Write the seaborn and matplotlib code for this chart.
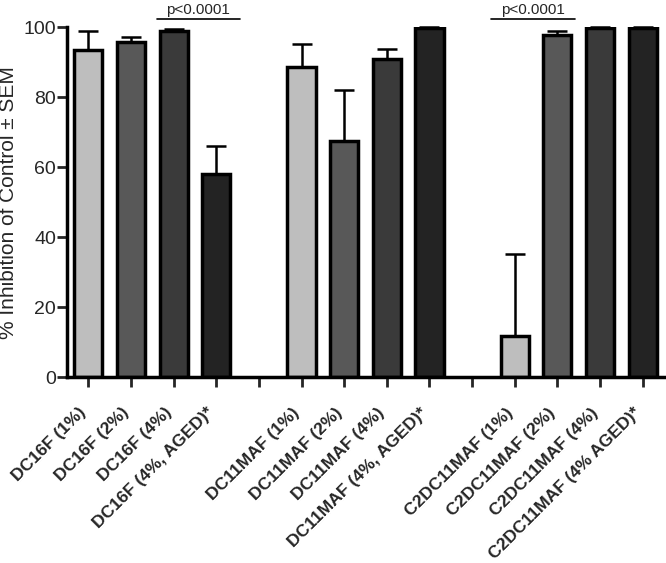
import numpy as np
import pandas as pd
import matplotlib
matplotlib.use("Agg")
import matplotlib.pyplot as plt
import matplotlib.transforms as mtransforms
import seaborn as sns

# bar data (blank entries are the gaps between groups)
labels = ["DC16F (1%)", "DC16F (2%)", "DC16F (4%)", "DC16F (4%, AGED)*", "",
          "DC11MAF (1%)", "DC11MAF (2%)", "DC11MAF (4%)", "DC11MAF (4%, AGED)*", " ",
          "C2DC11MAF (1%)", "C2DC11MAF (2%)", "C2DC11MAF (4%)", "C2DC11MAF (4% AGED)*"]
inhibition = [93.3, 95.6, 98.9, 57.9, np.nan,
              88.6, 67.5, 90.8, 99.7, np.nan,
              11.9, 97.6, 99.7, 99.7]
sem = [5.7, 1.5, 0.4, 8.1, np.nan,
       6.5, 14.6, 3.0, 0.2, np.nan,
       23.3, 1.4, 0.2, 0.2]
shades = ["#bebebe", "#585858", "#3a3a3a", "#232323", "#ffffff",
          "#bebebe", "#585858", "#3a3a3a", "#232323", "#ffffff",
          "#bebebe", "#585858", "#3a3a3a", "#232323"]

# significance brackets: (left, right, text)
sig = [(1.6, 3.56, "p<0.0001"), (9.45, 11.42, "p<0.0001")]

df = pd.DataFrame({"label": labels, "value": inhibition, "sem": sem})

sns.set_style("ticks")
plt.rcParams["font.family"] = ["Liberation Sans", "DejaVu Sans"]

fig = plt.figure(figsize=(6.66, 5.63), dpi=100)
ax = fig.add_axes([0.1006, 0.330, 0.8964, 0.622])

sns.barplot(data=df, x="label", y="value", hue="label", palette=shades,
            order=labels, hue_order=labels, legend=False, dodge=False,
            width=0.66, edgecolor="black", linewidth=2.5, errorbar=None, ax=ax)

pos = np.arange(len(labels))
ok = ~df["value"].isna().to_numpy()
ax.errorbar(pos[ok], df["value"][ok], yerr=[np.zeros(ok.sum()), df["sem"][ok]],
            fmt="none", ecolor="black", elinewidth=1.8, capsize=7, capthick=1.8,
            clip_on=False, zorder=1)

for x0, x1, txt in sig:
    ax.plot([x0, x1], [102.2, 102.2], color="black", lw=1.2, clip_on=False)
    ax.text((x0 + x1) / 2, 103.0, txt, ha="center", va="bottom", fontsize=11)

ax.set_xlim(-0.5, 13.5)
ax.set_ylim(0, 100)
ax.set_yticks([0, 20, 40, 60, 80, 100])
ax.set_xticks(pos)
ax.set_xticklabels(labels, rotation=45, ha="right", rotation_mode="anchor",
                   fontweight="bold", fontsize=12.6)
ax.tick_params(axis="y", labelsize=14, length=7, width=2, pad=1)
ax.tick_params(axis="x", length=7, width=2, pad=13)
shift = mtransforms.ScaledTranslation(-7 / 72, 0, fig.dpi_scale_trans)
for t in ax.get_xticklabels():
    t.set_transform(t.get_transform() + shift)
ax.set_xlabel("")
ax.set_ylabel("% Inhibition of Control ± SEM", fontsize=15, labelpad=4)
for s in ["left", "bottom"]:
    ax.spines[s].set_linewidth(2.5)
    ax.spines[s].set_color("black")
sns.despine(ax=ax)

fig.savefig("out.png", dpi=100)
